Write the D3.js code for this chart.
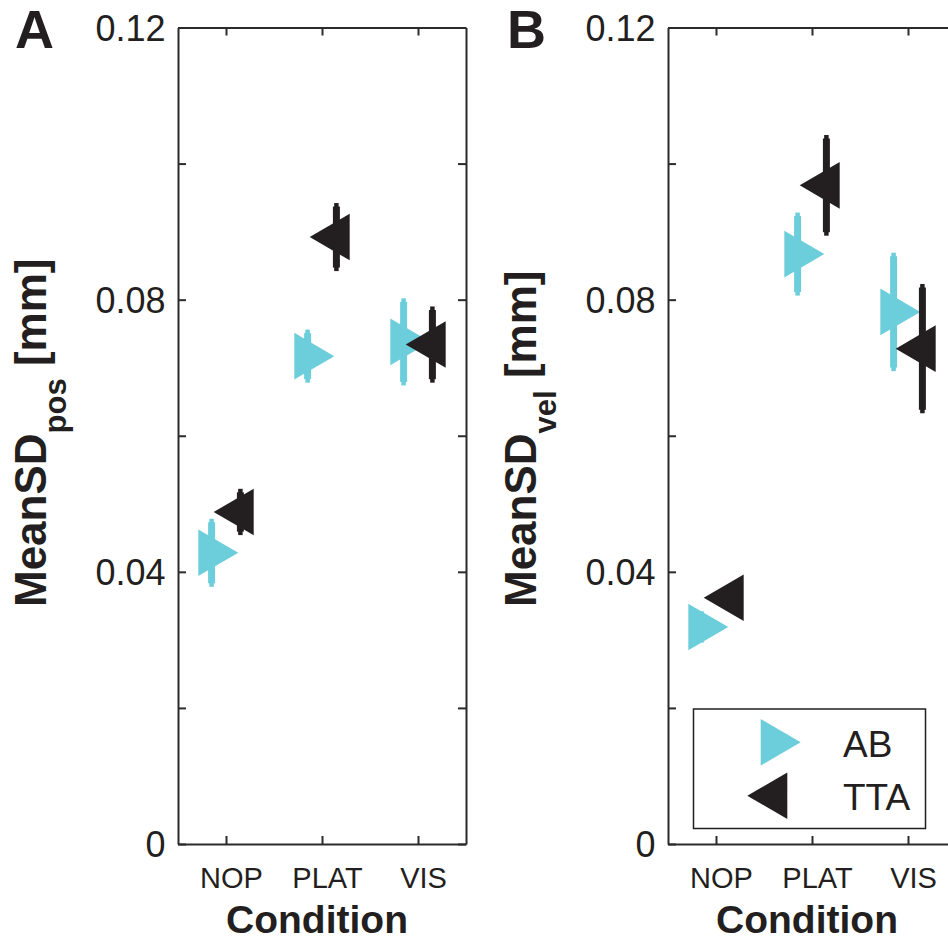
<!DOCTYPE html>
<html>
<head>
<meta charset="utf-8">
<script src="https://cdn.jsdelivr.net/npm/d3@7"></script>
<style>
  html, body { margin: 0; padding: 0; background: #fff; }
  svg { display: block; font-family: "Liberation Sans", Arial, Helvetica, sans-serif; }
</style>
</head>
<body>
<svg id="chart" width="948" height="943"></svg>
<script>
// Conditions on the x axis and the two groups compared in each panel
const conditions = ["NOP", "PLAT", "VIS"];
const groups = ["AB", "TTA"];

// Panel A: mean SD of position [mm]
const posAB = [0.0428, 0.0717, 0.0738];
const posABErr = [0.0050, 0.0039, 0.0064];
const posTTA = [0.0488, 0.0892, 0.0734];
const posTTAErr = [0.0034, 0.0050, 0.0056];

// Panel B: mean SD of velocity [mm]
const velAB = [0.0319, 0.0867, 0.0782];
const velABErr = [0.0023, 0.0061, 0.0087];
const velTTA = [0.0362, 0.0968, 0.0728];
const velTTAErr = [0.0015, 0.0074, 0.0095];

// Y axis ticks and which of them carry a label
const yTicks = [0, 0.02, 0.04, 0.06, 0.08, 0.10, 0.12];
const yLabelled = [0, 0.04, 0.08, 0.12];

const colors = { AB: "#6dcedb", TTA: "#231f20" };
const axisColor = "#2b2b2b";
const groupOffset = { AB: -0.15, TTA: 0.15 };

const svg = d3.select("#chart");

const plotTop = 27.5, plotBottom = 844, panelW = 288;
const y = d3.scaleLinear().domain([0, 0.12]).range([plotBottom, plotTop]);

// Triangle marker with its centroid on the data point
function triangle(dir) {
  const back = 13.3, tip = 26.7, half = 23.3;
  const pts = dir > 0
    ? [[-back, -half], [-back, half], [tip, 0]]
    : [[back, -half], [back, half], [-tip, 0]];
  return "M" + pts.map(p => p.join(",")).join("L") + "Z";
}

function drawPanel(opts) {
  const left = opts.left, right = left + panelW;
  const x = d3.scaleLinear().domain([0.5, 3.5]).range([left, right]);
  const g = svg.append("g");

  const styleAxis = sel => {
    sel.selectAll("path.domain").attr("stroke", axisColor).attr("stroke-width", 2);
    sel.selectAll(".tick line").attr("stroke", axisColor).attr("stroke-width", 2);
  };

  // Left axis with labels
  const yAxisL = d3.axisLeft(y).tickValues(yTicks)
    .tickSizeInner(-8).tickSizeOuter(0).tickPadding(12.5)
    .tickFormat(v => yLabelled.some(t => Math.abs(t - v) < 1e-9) ? (v === 0 ? "0" : d3.format(".2f")(v)) : "");
  g.append("g").attr("transform", `translate(${left},0)`).call(yAxisL).call(styleAxis)
    .call(s => s.selectAll("text").attr("font-size", 36).attr("fill", "#231f20")
      .attr("font-family", null).attr("dy", null).attr("y", 12.7));

  // Right axis (ticks only)
  const yAxisR = d3.axisRight(y).tickValues(yTicks).tickSizeInner(-8).tickSizeOuter(0).tickFormat("");
  g.append("g").attr("transform", `translate(${right},0)`).call(yAxisR).call(styleAxis);

  // Bottom axis with condition names
  const xAxisB = d3.axisBottom(x).tickValues([1, 2, 3])
    .tickSizeInner(-8).tickSizeOuter(0).tickPadding(23.4)
    .tickFormat((d, i) => conditions[i]);
  g.append("g").attr("transform", `translate(0,${plotBottom})`).call(xAxisB).call(styleAxis)
    .call(s => s.selectAll("text").attr("font-size", 29).attr("fill", "#231f20")
      .attr("font-family", null).attr("x", 5));

  // Top axis (ticks only)
  const xAxisT = d3.axisTop(x).tickValues([1, 2, 3]).tickSizeInner(-8).tickSizeOuter(0).tickFormat("");
  g.append("g").attr("transform", `translate(0,${plotTop})`).call(xAxisT).call(styleAxis);

  // Error bars and markers, one group after the other
  opts.series.forEach(s => {
    const rows = conditions.map((c, i) => ({ c, i, v: s.values[i], e: s.errors[i] }));
    const cx = d => x(d.i + 1 + groupOffset[s.name]);
    const sg = g.append("g");
    // thin end pieces
    sg.selectAll("line.cap").data(rows).join("line").attr("class", "cap")
      .attr("x1", cx).attr("x2", cx)
      .attr("y1", d => y(d.v + d.e)).attr("y2", d => y(d.v - d.e))
      .attr("stroke", colors[s.name]).attr("stroke-width", 4.5);
    // thick body of the bar
    sg.selectAll("line.bar").data(rows).join("line").attr("class", "bar")
      .attr("x1", cx).attr("x2", cx)
      .attr("y1", d => Math.min(y(d.v + d.e) + 3.5, y(d.v)))
      .attr("y2", d => Math.max(y(d.v - d.e) - 3.5, y(d.v)))
      .attr("stroke", colors[s.name]).attr("stroke-width", 7);
    sg.selectAll("path.mark").data(rows).join("path").attr("class", "mark")
      .attr("d", triangle(s.name === "AB" ? 1 : -1))
      .attr("transform", d => `translate(${cx(d)},${y(d.v)})`)
      .attr("fill", colors[s.name]);
  });

  // Y axis title with subscript
  const yl = g.append("text")
    .attr("transform", `translate(${left - 132},607) rotate(-90)`)
    .attr("font-weight", "bold").attr("fill", "#231f20").attr("font-size", 44);
  yl.append("tspan").text("MeanSD");
  yl.append("tspan").attr("font-size", 31).attr("dy", 20).text(opts.sub);
  yl.append("tspan").attr("dy", -20).text("\u00a0[mm]");

  // X axis title
  g.append("text").attr("x", (left + right) / 2 - 5).attr("y", 933)
    .attr("text-anchor", "middle").attr("font-weight", "bold")
    .attr("font-size", 39).attr("fill", "#231f20").text("Condition");

  // Panel letter
  g.append("text").attr("x", opts.letterX).attr("y", 48)
    .attr("font-weight", "bold").attr("font-size", 54).attr("fill", "#231f20")
    .text(opts.letter);

  return { x, g };
}

drawPanel({
  left: 178, letter: "A", letterX: 15, sub: "pos",
  series: [
    { name: "AB", values: posAB, errors: posABErr },
    { name: "TTA", values: posTTA, errors: posTTAErr }
  ]
});

const panelB = drawPanel({
  left: 668, letter: "B", letterX: 507, sub: "vel",
  series: [
    { name: "AB", values: velAB, errors: velABErr },
    { name: "TTA", values: velTTA, errors: velTTAErr }
  ]
});

// Legend inside panel B
const lg = panelB.g.append("g");
lg.append("rect").attr("x", 693.5).attr("y", 709).attr("width", 232).attr("height", 119.5)
  .attr("fill", "#fff").attr("stroke", "#231f20").attr("stroke-width", 1.5);
const legendRows = groups.map((name, i) => ({ name, i }));
lg.selectAll("path").data(legendRows).join("path")
  .attr("d", d => triangle(d.name === "AB" ? 1 : -1))
  .attr("transform", d => `translate(774,${742.3 + d.i * 53.4})`)
  .attr("fill", d => colors[d.name]);
lg.selectAll("text").data(legendRows).join("text")
  .attr("x", 843).attr("y", d => 756.7 + d.i * 53.3)
  .attr("font-size", 37).attr("fill", "#231f20").text(d => d.name);
</script>
</body>
</html>
